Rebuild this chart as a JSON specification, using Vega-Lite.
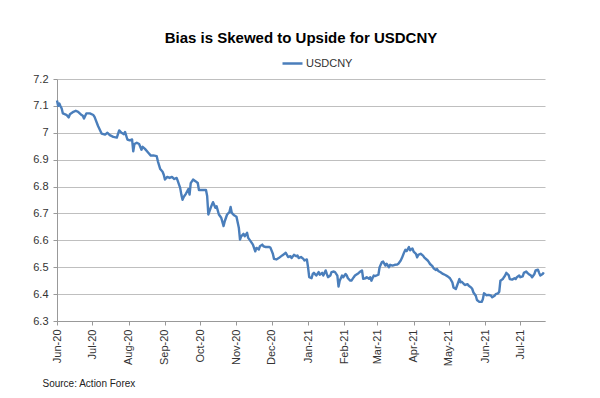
{
  "$schema": "https://vega.github.io/schema/vega-lite/v6.json",
  "width": 488,
  "height": 242,
  "autosize": {"type": "none"},
  "padding": {"left": 57, "top": 79, "right": 55, "bottom": 77},
  "background": "white",
  "config": {
    "view": {"stroke": null},
    "font": "Liberation Sans"
  },
  "title": {
    "text": "Bias is Skewed to Upside for USDCNY",
    "font": "Liberation Sans",
    "fontSize": 15,
    "fontWeight": "bold",
    "color": "#000000",
    "anchor": "middle",
    "offset": 6
  },
  "data": {
    "values": [
      {"date": "2020-06-01", "USDCNY": 7.120},
      {"date": "2020-06-02", "USDCNY": 7.100},
      {"date": "2020-06-03", "USDCNY": 7.109},
      {"date": "2020-06-04", "USDCNY": 7.099},
      {"date": "2020-06-05", "USDCNY": 7.090},
      {"date": "2020-06-06", "USDCNY": 7.072},
      {"date": "2020-06-09", "USDCNY": 7.067},
      {"date": "2020-06-11", "USDCNY": 7.057},
      {"date": "2020-06-12", "USDCNY": 7.069},
      {"date": "2020-06-15", "USDCNY": 7.078},
      {"date": "2020-06-17", "USDCNY": 7.082},
      {"date": "2020-06-19", "USDCNY": 7.078},
      {"date": "2020-06-22", "USDCNY": 7.066},
      {"date": "2020-06-23", "USDCNY": 7.063},
      {"date": "2020-06-24", "USDCNY": 7.053},
      {"date": "2020-06-26", "USDCNY": 7.072},
      {"date": "2020-06-29", "USDCNY": 7.072},
      {"date": "2020-07-02", "USDCNY": 7.066},
      {"date": "2020-07-03", "USDCNY": 7.059},
      {"date": "2020-07-06", "USDCNY": 7.025},
      {"date": "2020-07-09", "USDCNY": 6.997},
      {"date": "2020-07-12", "USDCNY": 6.993},
      {"date": "2020-07-14", "USDCNY": 7.000},
      {"date": "2020-07-16", "USDCNY": 6.991},
      {"date": "2020-07-19", "USDCNY": 6.985},
      {"date": "2020-07-22", "USDCNY": 6.982},
      {"date": "2020-07-24", "USDCNY": 7.009},
      {"date": "2020-07-26", "USDCNY": 7.000},
      {"date": "2020-07-28", "USDCNY": 6.995},
      {"date": "2020-07-29", "USDCNY": 7.003},
      {"date": "2020-07-31", "USDCNY": 6.975},
      {"date": "2020-08-02", "USDCNY": 6.972},
      {"date": "2020-08-04", "USDCNY": 6.975},
      {"date": "2020-08-05", "USDCNY": 6.931},
      {"date": "2020-08-06", "USDCNY": 6.958},
      {"date": "2020-08-08", "USDCNY": 6.963},
      {"date": "2020-08-10", "USDCNY": 6.958},
      {"date": "2020-08-12", "USDCNY": 6.937},
      {"date": "2020-08-13", "USDCNY": 6.948},
      {"date": "2020-08-15", "USDCNY": 6.940},
      {"date": "2020-08-18", "USDCNY": 6.925},
      {"date": "2020-08-20", "USDCNY": 6.915},
      {"date": "2020-08-22", "USDCNY": 6.916},
      {"date": "2020-08-25", "USDCNY": 6.913},
      {"date": "2020-08-26", "USDCNY": 6.894},
      {"date": "2020-08-28", "USDCNY": 6.865},
      {"date": "2020-08-30", "USDCNY": 6.855},
      {"date": "2020-08-31", "USDCNY": 6.844},
      {"date": "2020-09-01", "USDCNY": 6.826},
      {"date": "2020-09-03", "USDCNY": 6.836},
      {"date": "2020-09-05", "USDCNY": 6.832},
      {"date": "2020-09-07", "USDCNY": 6.836},
      {"date": "2020-09-09", "USDCNY": 6.828},
      {"date": "2020-09-11", "USDCNY": 6.832},
      {"date": "2020-09-12", "USDCNY": 6.820},
      {"date": "2020-09-14", "USDCNY": 6.795},
      {"date": "2020-09-15", "USDCNY": 6.770},
      {"date": "2020-09-16", "USDCNY": 6.751},
      {"date": "2020-09-17", "USDCNY": 6.761},
      {"date": "2020-09-19", "USDCNY": 6.774},
      {"date": "2020-09-21", "USDCNY": 6.791},
      {"date": "2020-09-22", "USDCNY": 6.770},
      {"date": "2020-09-23", "USDCNY": 6.813},
      {"date": "2020-09-25", "USDCNY": 6.826},
      {"date": "2020-09-27", "USDCNY": 6.820},
      {"date": "2020-09-29", "USDCNY": 6.813},
      {"date": "2020-09-30", "USDCNY": 6.787},
      {"date": "2020-10-06", "USDCNY": 6.787},
      {"date": "2020-10-07", "USDCNY": 6.765},
      {"date": "2020-10-08", "USDCNY": 6.696},
      {"date": "2020-10-10", "USDCNY": 6.721},
      {"date": "2020-10-12", "USDCNY": 6.742},
      {"date": "2020-10-14", "USDCNY": 6.721},
      {"date": "2020-10-15", "USDCNY": 6.727},
      {"date": "2020-10-17", "USDCNY": 6.696},
      {"date": "2020-10-19", "USDCNY": 6.684},
      {"date": "2020-10-21", "USDCNY": 6.653},
      {"date": "2020-10-22", "USDCNY": 6.671},
      {"date": "2020-10-24", "USDCNY": 6.696},
      {"date": "2020-10-26", "USDCNY": 6.705},
      {"date": "2020-10-27", "USDCNY": 6.724},
      {"date": "2020-10-28", "USDCNY": 6.702},
      {"date": "2020-10-30", "USDCNY": 6.693},
      {"date": "2020-11-01", "USDCNY": 6.688},
      {"date": "2020-11-03", "USDCNY": 6.647},
      {"date": "2020-11-04", "USDCNY": 6.603},
      {"date": "2020-11-05", "USDCNY": 6.615},
      {"date": "2020-11-07", "USDCNY": 6.624},
      {"date": "2020-11-08", "USDCNY": 6.615},
      {"date": "2020-11-10", "USDCNY": 6.628},
      {"date": "2020-11-11", "USDCNY": 6.609},
      {"date": "2020-11-13", "USDCNY": 6.597},
      {"date": "2020-11-15", "USDCNY": 6.584},
      {"date": "2020-11-17", "USDCNY": 6.559},
      {"date": "2020-11-18", "USDCNY": 6.572},
      {"date": "2020-11-20", "USDCNY": 6.566},
      {"date": "2020-11-21", "USDCNY": 6.578},
      {"date": "2020-11-23", "USDCNY": 6.584},
      {"date": "2020-11-24", "USDCNY": 6.578},
      {"date": "2020-11-26", "USDCNY": 6.575},
      {"date": "2020-11-29", "USDCNY": 6.575},
      {"date": "2020-11-30", "USDCNY": 6.572},
      {"date": "2020-12-02", "USDCNY": 6.550},
      {"date": "2020-12-03", "USDCNY": 6.531},
      {"date": "2020-12-05", "USDCNY": 6.529},
      {"date": "2020-12-07", "USDCNY": 6.534},
      {"date": "2020-12-10", "USDCNY": 6.544},
      {"date": "2020-12-12", "USDCNY": 6.550},
      {"date": "2020-12-13", "USDCNY": 6.554},
      {"date": "2020-12-15", "USDCNY": 6.538},
      {"date": "2020-12-17", "USDCNY": 6.541},
      {"date": "2020-12-18", "USDCNY": 6.534},
      {"date": "2020-12-20", "USDCNY": 6.546},
      {"date": "2020-12-22", "USDCNY": 6.541},
      {"date": "2020-12-23", "USDCNY": 6.544},
      {"date": "2020-12-24", "USDCNY": 6.534},
      {"date": "2020-12-26", "USDCNY": 6.538},
      {"date": "2020-12-28", "USDCNY": 6.531},
      {"date": "2020-12-29", "USDCNY": 6.525},
      {"date": "2020-12-31", "USDCNY": 6.529},
      {"date": "2021-01-01", "USDCNY": 6.500},
      {"date": "2021-01-02", "USDCNY": 6.463},
      {"date": "2021-01-04", "USDCNY": 6.459},
      {"date": "2021-01-05", "USDCNY": 6.475},
      {"date": "2021-01-06", "USDCNY": 6.479},
      {"date": "2021-01-08", "USDCNY": 6.469},
      {"date": "2021-01-10", "USDCNY": 6.482},
      {"date": "2021-01-11", "USDCNY": 6.472},
      {"date": "2021-01-13", "USDCNY": 6.479},
      {"date": "2021-01-14", "USDCNY": 6.469},
      {"date": "2021-01-16", "USDCNY": 6.488},
      {"date": "2021-01-17", "USDCNY": 6.475},
      {"date": "2021-01-18", "USDCNY": 6.463},
      {"date": "2021-01-20", "USDCNY": 6.469},
      {"date": "2021-01-21", "USDCNY": 6.482},
      {"date": "2021-01-23", "USDCNY": 6.484},
      {"date": "2021-01-24", "USDCNY": 6.482},
      {"date": "2021-01-26", "USDCNY": 6.469},
      {"date": "2021-01-27", "USDCNY": 6.428},
      {"date": "2021-01-28", "USDCNY": 6.450},
      {"date": "2021-01-30", "USDCNY": 6.469},
      {"date": "2021-01-31", "USDCNY": 6.463},
      {"date": "2021-02-02", "USDCNY": 6.475},
      {"date": "2021-02-03", "USDCNY": 6.469},
      {"date": "2021-02-04", "USDCNY": 6.459},
      {"date": "2021-02-06", "USDCNY": 6.450},
      {"date": "2021-02-07", "USDCNY": 6.450},
      {"date": "2021-02-09", "USDCNY": 6.463},
      {"date": "2021-02-10", "USDCNY": 6.469},
      {"date": "2021-02-13", "USDCNY": 6.478},
      {"date": "2021-02-14", "USDCNY": 6.482},
      {"date": "2021-02-16", "USDCNY": 6.488},
      {"date": "2021-02-17", "USDCNY": 6.457},
      {"date": "2021-02-19", "USDCNY": 6.459},
      {"date": "2021-02-20", "USDCNY": 6.463},
      {"date": "2021-02-22", "USDCNY": 6.457},
      {"date": "2021-02-23", "USDCNY": 6.463},
      {"date": "2021-02-24", "USDCNY": 6.450},
      {"date": "2021-02-26", "USDCNY": 6.469},
      {"date": "2021-02-27", "USDCNY": 6.467},
      {"date": "2021-03-02", "USDCNY": 6.472},
      {"date": "2021-03-03", "USDCNY": 6.500},
      {"date": "2021-03-05", "USDCNY": 6.519},
      {"date": "2021-03-06", "USDCNY": 6.521},
      {"date": "2021-03-08", "USDCNY": 6.506},
      {"date": "2021-03-09", "USDCNY": 6.513},
      {"date": "2021-03-11", "USDCNY": 6.500},
      {"date": "2021-03-12", "USDCNY": 6.509},
      {"date": "2021-03-14", "USDCNY": 6.506},
      {"date": "2021-03-16", "USDCNY": 6.509},
      {"date": "2021-03-18", "USDCNY": 6.510},
      {"date": "2021-03-19", "USDCNY": 6.513},
      {"date": "2021-03-21", "USDCNY": 6.525},
      {"date": "2021-03-22", "USDCNY": 6.534},
      {"date": "2021-03-24", "USDCNY": 6.556},
      {"date": "2021-03-25", "USDCNY": 6.565},
      {"date": "2021-03-26", "USDCNY": 6.560},
      {"date": "2021-03-28", "USDCNY": 6.575},
      {"date": "2021-03-29", "USDCNY": 6.563},
      {"date": "2021-03-31", "USDCNY": 6.570},
      {"date": "2021-04-01", "USDCNY": 6.558},
      {"date": "2021-04-03", "USDCNY": 6.550},
      {"date": "2021-04-04", "USDCNY": 6.537},
      {"date": "2021-04-05", "USDCNY": 6.546},
      {"date": "2021-04-07", "USDCNY": 6.550},
      {"date": "2021-04-09", "USDCNY": 6.543},
      {"date": "2021-04-10", "USDCNY": 6.537},
      {"date": "2021-04-13", "USDCNY": 6.525},
      {"date": "2021-04-14", "USDCNY": 6.519},
      {"date": "2021-04-15", "USDCNY": 6.512},
      {"date": "2021-04-17", "USDCNY": 6.504},
      {"date": "2021-04-18", "USDCNY": 6.496},
      {"date": "2021-04-20", "USDCNY": 6.490},
      {"date": "2021-04-21", "USDCNY": 6.493},
      {"date": "2021-04-22", "USDCNY": 6.486},
      {"date": "2021-04-24", "USDCNY": 6.481},
      {"date": "2021-04-26", "USDCNY": 6.475},
      {"date": "2021-04-28", "USDCNY": 6.471},
      {"date": "2021-04-30", "USDCNY": 6.466},
      {"date": "2021-05-02", "USDCNY": 6.459},
      {"date": "2021-05-04", "USDCNY": 6.444},
      {"date": "2021-05-05", "USDCNY": 6.425},
      {"date": "2021-05-07", "USDCNY": 6.419},
      {"date": "2021-05-08", "USDCNY": 6.431},
      {"date": "2021-05-10", "USDCNY": 6.456},
      {"date": "2021-05-11", "USDCNY": 6.444},
      {"date": "2021-05-12", "USDCNY": 6.446},
      {"date": "2021-05-14", "USDCNY": 6.437},
      {"date": "2021-05-15", "USDCNY": 6.434},
      {"date": "2021-05-17", "USDCNY": 6.437},
      {"date": "2021-05-18", "USDCNY": 6.431},
      {"date": "2021-05-20", "USDCNY": 6.425},
      {"date": "2021-05-21", "USDCNY": 6.419},
      {"date": "2021-05-22", "USDCNY": 6.406},
      {"date": "2021-05-24", "USDCNY": 6.394},
      {"date": "2021-05-25", "USDCNY": 6.378},
      {"date": "2021-05-27", "USDCNY": 6.371},
      {"date": "2021-05-29", "USDCNY": 6.371},
      {"date": "2021-05-30", "USDCNY": 6.381},
      {"date": "2021-05-31", "USDCNY": 6.403},
      {"date": "2021-06-02", "USDCNY": 6.396},
      {"date": "2021-06-04", "USDCNY": 6.397},
      {"date": "2021-06-06", "USDCNY": 6.394},
      {"date": "2021-06-07", "USDCNY": 6.388},
      {"date": "2021-06-09", "USDCNY": 6.394},
      {"date": "2021-06-10", "USDCNY": 6.400},
      {"date": "2021-06-12", "USDCNY": 6.403},
      {"date": "2021-06-13", "USDCNY": 6.409},
      {"date": "2021-06-14", "USDCNY": 6.450},
      {"date": "2021-06-16", "USDCNY": 6.456},
      {"date": "2021-06-17", "USDCNY": 6.463},
      {"date": "2021-06-18", "USDCNY": 6.469},
      {"date": "2021-06-19", "USDCNY": 6.479},
      {"date": "2021-06-21", "USDCNY": 6.471},
      {"date": "2021-06-22", "USDCNY": 6.456},
      {"date": "2021-06-24", "USDCNY": 6.454},
      {"date": "2021-06-26", "USDCNY": 6.459},
      {"date": "2021-06-27", "USDCNY": 6.456},
      {"date": "2021-06-28", "USDCNY": 6.463},
      {"date": "2021-06-30", "USDCNY": 6.469},
      {"date": "2021-07-01", "USDCNY": 6.463},
      {"date": "2021-07-03", "USDCNY": 6.466},
      {"date": "2021-07-04", "USDCNY": 6.479},
      {"date": "2021-07-06", "USDCNY": 6.484},
      {"date": "2021-07-07", "USDCNY": 6.479},
      {"date": "2021-07-08", "USDCNY": 6.475},
      {"date": "2021-07-10", "USDCNY": 6.469},
      {"date": "2021-07-11", "USDCNY": 6.463},
      {"date": "2021-07-13", "USDCNY": 6.475},
      {"date": "2021-07-14", "USDCNY": 6.488},
      {"date": "2021-07-16", "USDCNY": 6.491},
      {"date": "2021-07-17", "USDCNY": 6.479},
      {"date": "2021-07-18", "USDCNY": 6.469},
      {"date": "2021-07-20", "USDCNY": 6.475},
      {"date": "2021-07-21", "USDCNY": 6.481}
    ]
  },
  "mark": {"type": "line", "strokeWidth": 2.4, "strokeJoin": "round"},
  "encoding": {
    "x": {
      "field": "date",
      "type": "temporal",
      "scale": {
        "type": "utc",
        "domain": [
          {"year": 2020, "month": 6, "date": 1, "utc": true},
          {"year": 2021, "month": 7, "date": 22, "utc": true}
        ]
      },
      "axis": {
        "title": "Source: Action Forex",
        "titleFont": "Liberation Sans",
        "titleFontSize": 10,
        "titleFontWeight": "normal",
        "titleColor": "#222222",
        "titleAlign": "left",
        "titleBaseline": "alphabetic",
        "titleX": -15,
        "titleY": 65,
        "tickCount": {"interval": "month", "step": 1},
        "format": "%b-%y",
        "labelAngle": -90,
        "labelFont": "Liberation Sans",
        "labelFontSize": 11,
        "labelColor": "#333333",
        "labelPadding": 4,
        "labelOverlap": false,
        "labelFlush": false,
        "domainColor": "#999999",
        "domainWidth": 1,
        "tickColor": "#999999",
        "tickSize": 4,
        "grid": false
      }
    },
    "y": {
      "field": "USDCNY",
      "type": "quantitative",
      "scale": {"domain": [6.3, 7.2], "nice": false, "zero": false},
      "axis": {
        "title": null,
        "values": [6.3, 6.4, 6.5, 6.6, 6.7, 6.8, 6.9, 7.0, 7.1, 7.2],
        "format": "~g",
        "labelFont": "Liberation Sans",
        "labelFontSize": 11,
        "labelColor": "#333333",
        "labelPadding": 5,
        "labelFlush": false,
        "domainColor": "#999999",
        "tickColor": "#999999",
        "tickSize": 4,
        "grid": true,
        "gridColor": "#bfbfbf",
        "gridWidth": 1
      }
    },
    "color": {
      "datum": "USDCNY",
      "scale": {"range": ["#4a7ebb"]},
      "legend": {
        "title": null,
        "orient": "none",
        "direction": "horizontal",
        "legendX": 224,
        "legendY": -27,
        "symbolType": "stroke",
        "symbolSize": 400,
        "symbolStrokeWidth": 2.5,
        "labelFont": "Liberation Sans",
        "labelFontSize": 11,
        "labelColor": "#333333",
        "labelOffset": 2,
        "padding": 0
      }
    }
  }
}
